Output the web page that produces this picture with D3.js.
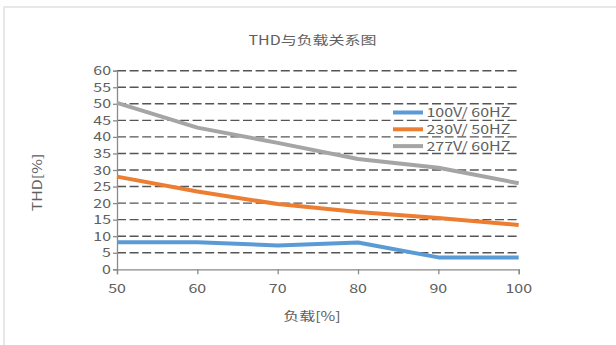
<!DOCTYPE html>
<html><head><meta charset="utf-8">
<script src="https://cdn.jsdelivr.net/npm/d3@7"></script>
<style>html,body{margin:0;padding:0;background:#fff;}svg{display:block;}</style>
</head><body>
<svg id="c" width="616" height="345"></svg>
<script>
const loads = [50, 60, 70, 80, 90, 100];
const s100 = [8.2, 8.2, 7.2, 8.1, 3.6, 3.6];
const s230 = [28.0, 23.5, 19.7, 17.3, 15.5, 13.4];
const s277 = [50.3, 42.8, 38.2, 33.3, 30.7, 26.0];
const seriesNames = ["100V/ 60HZ", "230V/ 50HZ", "277V/ 60HZ"];
const seriesColors = ["#5B9BD5", "#ED7D31", "#A5A5A5"];
const yTicks = [0, 5, 10, 15, 20, 25, 30, 35, 40, 45, 50, 55, 60];
const title = "THD与负载关系图";
const xTitle = "负载[%]";
const yTitle = "THD[%]";

const FONT = "'Noto Sans CJK SC', 'Noto Sans', sans-serif";
const SX = 1.28, FS = 12.5, TXT = "#606060";

const svg = d3.select("#c");
svg.append("rect").attr("x", 4).attr("y", 7).attr("width", 640).attr("height", 360)
  .attr("fill", "none").attr("stroke", "#e3e3e3").attr("stroke-width", 1.6);

const x = d3.scaleLinear().domain([50, 100]).range([117, 518.7]);
const y = d3.scaleLinear().domain([0, 60]).range([269.3, 70.7]);

function txt(g, s, px, py, anchor, size, rot) {
  const t = g.append("text").text(s).attr("font-family", FONT).attr("font-size", size || FS)
    .attr("fill", TXT).attr("text-anchor", anchor || "start")
    .attr("transform", `translate(${px},${py})` + (rot ? ` rotate(${rot})` : "") + ` scale(${SX},1)`);
  return t;
}

// gridlines
svg.append("g").selectAll("line").data(yTicks.filter(d => d > 0)).join("line")
  .attr("x1", x(50)).attr("x2", x(100)).attr("y1", d => y(d)).attr("y2", d => y(d))
  .attr("stroke", "#555").attr("stroke-width", 1.4).attr("stroke-dasharray", "9,3.6");

// axes
const yAxis = d3.axisLeft(y).tickValues(yTicks).tickSize(4).tickFormat("");
const gy = svg.append("g").attr("transform", `translate(${x(50)},0)`).call(yAxis);
const xAxis = d3.axisBottom(x).tickValues(loads).tickSize(5).tickFormat("");
const gx = svg.append("g").attr("transform", `translate(0,${y(0)})`).call(xAxis);
[gy, gx].forEach(g => {
  g.selectAll("path,line").attr("stroke", "#8a8a8a").attr("stroke-width", 1.3);
});

// tick labels
const gl = svg.append("g");
yTicks.forEach(v => txt(gl, String(v), 111, y(v) + 4.5, "end"));
loads.forEach(v => txt(gl, String(v), x(v), 292.5, "middle"));

// lines
const line = d3.line().x((d, i) => x(loads[i])).y(d => y(d));
[s100, s230, s277].forEach((s, i) => {
  svg.append("path").datum(s).attr("d", line).attr("fill", "none")
    .attr("stroke", seriesColors[i]).attr("stroke-width", 4).attr("stroke-linejoin", "round");
});

// legend
const lg = svg.append("g");
seriesNames.forEach((n, i) => {
  const ly = 112.5 + i * 16.8;
  lg.append("line").attr("x1", 393).attr("x2", 423).attr("y1", ly).attr("y2", ly)
    .attr("stroke", seriesColors[i]).attr("stroke-width", 4);
  txt(lg, n, 426.5, ly + 4.5, "start");
});

// titles
txt(svg, title, 312.5, 45, "middle");
txt(svg, xTitle, 312, 320.5, "middle");
txt(svg, yTitle, 41.5, 182.5, "middle", FS, -90);
</script>
</body></html>
